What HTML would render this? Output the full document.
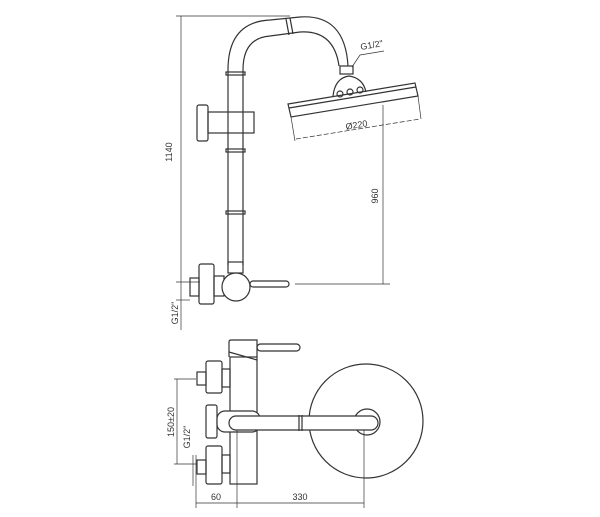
<!DOCTYPE html>
<html><head><meta charset="utf-8"><style>
html,body{margin:0;padding:0;background:#fff}
svg{display:block}
text{font-family:"Liberation Sans",sans-serif;font-size:9px;fill:#333}
</style></head><body>
<svg width="600" height="517" viewBox="0 0 600 517" xmlns="http://www.w3.org/2000/svg">
<g fill="none" stroke="#333" stroke-width="1.2">
<!-- 1140 dim -->
<line x1="176" y1="16" x2="290" y2="16" stroke-width="0.7"/>
<line x1="181" y1="16" x2="181" y2="330" stroke-width="0.7"/>
<line x1="176" y1="282" x2="200" y2="282" stroke-width="0.7"/>
<line x1="176" y1="300" x2="190" y2="300" stroke-width="0.7"/>
<!-- rail and arm -->
<path d="M228 265 V70 Q228 22 270 20 L300 17 Q345 14 348 66"/>
<path d="M243 265 V70 Q243 38 270 36 L300 32 Q334 30 339 66"/>
<line x1="286" y1="19" x2="289" y2="35"/>
<line x1="290" y1="18" x2="293" y2="34"/>
<rect x="226" y="72" width="19" height="3"/>
<rect x="226" y="149" width="19" height="3"/>
<rect x="226" y="211" width="19" height="3"/>
<!-- slider -->
<rect x="208" y="112" width="46" height="21"/>
<rect x="197" y="105" width="11" height="36" rx="2"/>
<!-- head -->
<rect x="340" y="66" width="13" height="8"/>
<path d="M333 96 Q335 78 349 76 Q363 78 366 92"/>
<circle cx="340" cy="94" r="3"/><circle cx="350" cy="92" r="3"/><circle cx="360" cy="90" r="3"/>
<path d="M288 104 L415 83 L418 96 L291 117 Z"/>
<line x1="289" y1="108" x2="416" y2="87"/>
<line x1="291" y1="117" x2="295" y2="141" stroke-width="0.7"/>
<line x1="418" y1="96" x2="421" y2="119" stroke-width="0.7"/>
<line x1="296" y1="139" x2="420" y2="119" stroke-width="0.7" stroke-dasharray="5,2"/>
<!-- 960 dim -->
<line x1="383" y1="105" x2="383" y2="284" stroke-width="0.7"/>
<line x1="295" y1="284" x2="390" y2="284" stroke-width="0.7"/>
<!-- G1/2 leader -->
<line x1="352" y1="67" x2="360" y2="55" stroke-width="0.7"/>
<line x1="360" y1="55" x2="384" y2="51" stroke-width="0.7"/>
<!-- mixer top -->
<rect x="228" y="262" width="15" height="11"/>
<rect x="199" y="264" width="15" height="40" rx="2"/>
<rect x="190" y="278" width="9" height="18"/>
<rect x="214" y="276" width="10" height="20"/>
<rect x="250" y="281" width="39" height="6" rx="3"/>
<circle cx="236" cy="287" r="14" fill="#fff"/>
<!-- bottom view -->
<rect x="230" y="357" width="27" height="127"/>
<path d="M229 357 V342 Q229 340 231 340 H257 V357"/>
<path d="M229 352 L257 360"/>
<rect x="257" y="344" width="43" height="7" rx="3.5"/>
<rect x="206" y="361" width="16" height="32" rx="2"/>
<rect x="197" y="372" width="9" height="13"/>
<rect x="222" y="369" width="8" height="18"/>
<rect x="206" y="446" width="16" height="38" rx="2"/>
<rect x="197" y="460" width="9" height="14"/>
<rect x="222" y="455" width="8" height="18"/>
<rect x="206" y="405" width="11" height="33" rx="2"/>
<circle cx="366" cy="421" r="57"/>
<circle cx="367" cy="422" r="13" fill="#fff"/>
<rect x="217" y="411" width="43" height="21" rx="8" fill="#fff"/>
<path d="M236 416 H371 A7 7 0 0 1 371 430 H236 A7 7 0 0 1 236 416 Z" fill="#fff"/>
<line x1="299" y1="415" x2="299" y2="431"/><line x1="302" y1="415" x2="302" y2="431"/>
<!-- bottom dims -->
<line x1="174" y1="379" x2="196" y2="379" stroke-width="0.7"/>
<line x1="174" y1="464" x2="197" y2="464" stroke-width="0.7"/>
<line x1="177" y1="379" x2="177" y2="464" stroke-width="0.7"/>
<line x1="193" y1="455" x2="193" y2="486" stroke-width="0.7"/>
<line x1="196" y1="455" x2="196" y2="508" stroke-width="0.7"/>
<line x1="237" y1="430" x2="237" y2="508" stroke-width="0.7"/>
<line x1="364" y1="430" x2="364" y2="508" stroke-width="0.7"/>
<line x1="196" y1="503" x2="364" y2="503" stroke-width="0.7"/>
</g>
<text x="172" y="152" transform="rotate(-90 172 152)" text-anchor="middle">1140</text>
<text x="378" y="196" transform="rotate(-90 378 196)" text-anchor="middle">960</text>
<text x="357" y="128" transform="rotate(-9 357 128)" text-anchor="middle">Ø220</text>
<text x="361" y="50" transform="rotate(-10 361 50)">G1/2"</text>
<text x="178" y="313" transform="rotate(-90 178 313)" text-anchor="middle">G1/2"</text>
<text x="174" y="422" transform="rotate(-90 174 422)" text-anchor="middle">150±20</text>
<text x="190" y="437" transform="rotate(-90 190 437)" text-anchor="middle">G1/2"</text>
<text x="216" y="500" text-anchor="middle">60</text>
<text x="300" y="500" text-anchor="middle">330</text>
</svg>
</body></html>
